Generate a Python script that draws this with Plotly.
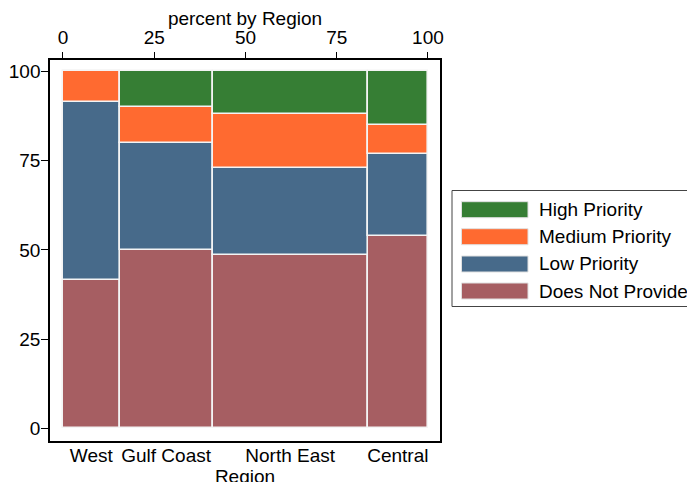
import plotly.graph_objects as go

regions = ["West", "Gulf Coast", "North East", "Central"]
region_share = [15.5, 25.5, 42.5, 16.5]  # percent by Region (widths)
categories = ["Does Not Provide", "Low Priority", "Medium Priority", "High Priority"]
values = {
    "Does Not Provide": [41.5, 50.0, 48.5, 54.0],
    "Low Priority":     [50.0, 30.0, 24.5, 23.0],
    "Medium Priority":  [8.5, 10.0, 15.0, 8.0],
    "High Priority":    [0.0, 10.0, 12.0, 15.0],
}
colors = {
    "High Priority": "#367E34",
    "Medium Priority": "#FF6A30",
    "Low Priority": "#476A8A",
    "Does Not Provide": "#A65E62",
}
top_ticks = [0, 25, 50, 75, 100]
left_ticks = [0, 25, 50, 75, 100]

lefts = []
acc = 0.0
for w in region_share:
    lefts.append(acc)
    acc += w
centers = [l + w / 2 for l, w in zip(lefts, region_share)]

fig = go.Figure()
base = [0.0] * len(regions)
for cat in categories:
    vals = values[cat]
    fig.add_trace(go.Bar(
        x=centers, y=vals, base=base[:], width=region_share,
        marker=dict(color=colors[cat], line=dict(color="#F4F4F4", width=1.6)),
        name=cat, showlegend=False, hoverinfo="skip",
    ))
    base = [b + v for b, v in zip(base, vals)]

fig.add_trace(go.Scatter(x=[0, 100], y=[0, 0], xaxis="x2", mode="markers",
                         marker=dict(opacity=0), showlegend=False, hoverinfo="skip"))

FAM = "Liberation Sans, Arial, sans-serif"
font = dict(family=FAM, size=19, color="black")

xr = [-3.56, 103.3]
yr = [-3.56, 103.2]
fig.update_layout(
    width=695, height=482,
    margin=dict(l=42, r=263, t=52, b=49, autoexpand=False),
    paper_bgcolor="white", plot_bgcolor="white",
    barmode="overlay", bargap=0,
    font=font,
    showlegend=False,
    xaxis=dict(range=xr, tickvals=centers, ticktext=regions, ticks="", automargin=False,
               showgrid=False, zeroline=False, showline=True, mirror=True,
               linecolor="black", linewidth=1.5, tickfont=font, ticklabelstandoff=-4,
               title=dict(text="Region", font=font, standoff=0)),
    xaxis2=dict(range=xr, overlaying="x", side="top", tickvals=top_ticks, automargin=False,
                ticks="outside", ticklen=7, tickcolor="black", tickwidth=1,
                showgrid=False, zeroline=False, tickfont=font,
                title=dict(text="percent by Region", font=font, standoff=8)),
    yaxis=dict(range=yr, tickvals=left_ticks, ticks="outside", ticklen=7, automargin=False,
               tickcolor="black", tickwidth=1, showgrid=False, zeroline=False,
               showline=True, mirror=True, linecolor="black", linewidth=1.5,
               tickfont=font, ticklabelstandoff=-3),
)

# clipped title fragment at the very top
fig.add_annotation(text="Outreach Program", xref="paper", yref="paper",
                   x=0.5 - 16 / 390.0, y=1.143, xanchor="center", yanchor="bottom",
                   showarrow=False, font=dict(family=FAM, size=19, color="black"))

def px_x(px):
    return (px - 50) / 390.0

def px_y(py):
    return (441 - py) / 381.0

shapes = [dict(type="rect", xref="paper", yref="paper",
               x0=px_x(452), x1=px_x(705), y0=px_y(306.5), y1=px_y(190.5),
               line=dict(color="#444444", width=1), fillcolor="white", layer="below")]
legend_order = ["High Priority", "Medium Priority", "Low Priority", "Does Not Provide"]
row_centers = [209.7, 236.7, 264.0, 291.0]
for name, cy in zip(legend_order, row_centers):
    shapes.append(dict(type="rect", xref="paper", yref="paper",
                       x0=px_x(461.5), x1=px_x(528), y0=px_y(cy + 8), y1=px_y(cy - 8),
                       line=dict(color="#E0E0E0", width=1), fillcolor=colors[name]))
    fig.add_annotation(text=name, xref="paper", yref="paper", x=px_x(537), y=px_y(cy),
                       xanchor="left", yanchor="middle", showarrow=False, font=font)
fig.update_layout(shapes=shapes)

fig.write_html("out.html")
